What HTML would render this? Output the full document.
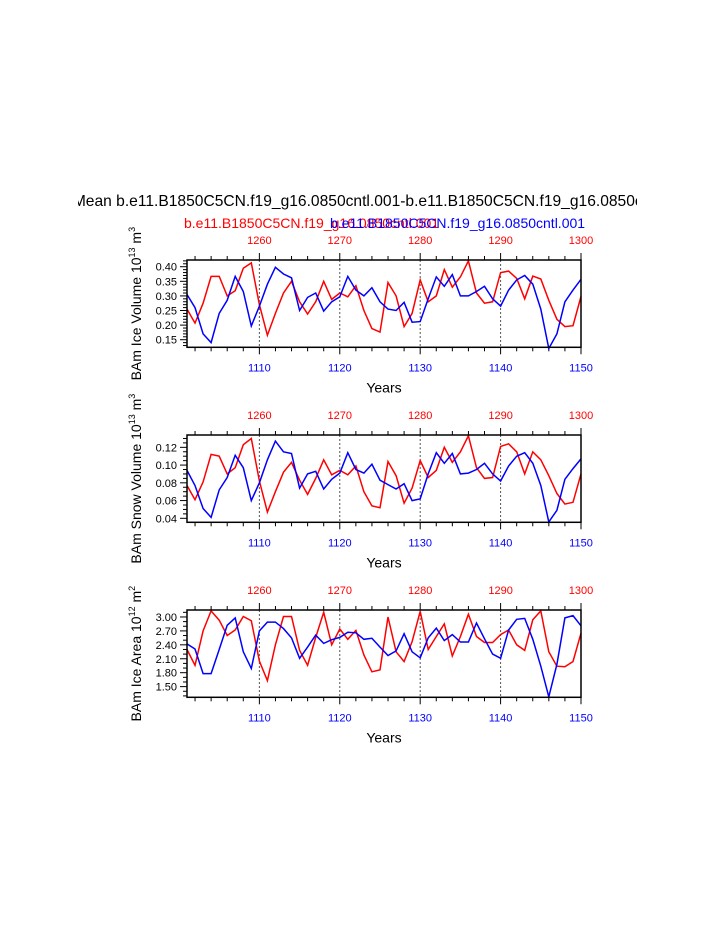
<!DOCTYPE html>
<html><head><meta charset="utf-8"><style>
html,body{margin:0;padding:0;background:#fff;}
svg{display:block;font-family:"Liberation Sans",Arial,sans-serif;}
</style></head><body>
<svg id="chart" width="723" height="935" viewBox="0 0 723 935">
<text x="366" y="206" font-size="15.6" text-anchor="middle">Mean b.e11.B1850C5CN.f19_g16.0850cntl.001-b.e11.B1850C5CN.f19_g16.0850cntl</text>
<rect x="0" y="190" width="78" height="24" fill="#fff"/>
<rect x="637" y="190" width="86" height="24" fill="#fff"/>
<text x="184" y="228" font-size="14" fill="#ff0000">b.e11.B1850C5CN.f19_g16.0850cntl.001</text>
<text x="330" y="228" font-size="14" fill="#0000ff">b.e11.B1850C5CN.f19_g16.0850cntl.001</text>
<g id="panels"></g>
</svg>
<script>
const years = [];
for (let y = 1101; y <= 1150; y++) years.push(y);
const iceVolRed = [0.255,0.207,0.275,0.367,0.367,0.30,0.318,0.395,0.413,0.27,0.165,0.24,0.31,0.35,0.28,0.238,0.28,0.35,0.288,0.31,0.297,0.335,0.25,0.188,0.176,0.346,0.30,0.195,0.24,0.355,0.28,0.30,0.39,0.33,0.365,0.42,0.31,0.275,0.28,0.38,0.385,0.36,0.29,0.368,0.358,0.285,0.22,0.195,0.198,0.298];
const iceVolBlue = [0.305,0.26,0.17,0.14,0.24,0.285,0.367,0.315,0.197,0.265,0.34,0.398,0.375,0.362,0.25,0.295,0.31,0.248,0.28,0.297,0.367,0.32,0.30,0.328,0.28,0.255,0.25,0.278,0.21,0.212,0.29,0.365,0.333,0.373,0.30,0.30,0.315,0.333,0.29,0.265,0.32,0.355,0.37,0.34,0.255,0.12,0.17,0.28,0.32,0.357];
const snowRed = [0.077,0.061,0.081,0.112,0.110,0.090,0.097,0.123,0.130,0.082,0.047,0.070,0.092,0.103,0.083,0.067,0.085,0.106,0.089,0.094,0.089,0.099,0.070,0.054,0.052,0.104,0.088,0.057,0.074,0.105,0.086,0.094,0.120,0.103,0.115,0.133,0.097,0.085,0.086,0.121,0.124,0.115,0.090,0.115,0.106,0.088,0.068,0.056,0.058,0.090];
const snowBlue = [0.094,0.077,0.051,0.041,0.072,0.086,0.111,0.097,0.060,0.080,0.106,0.127,0.115,0.113,0.074,0.090,0.093,0.073,0.084,0.091,0.114,0.095,0.091,0.101,0.083,0.078,0.073,0.079,0.060,0.062,0.090,0.114,0.102,0.113,0.090,0.091,0.095,0.102,0.090,0.082,0.099,0.110,0.114,0.102,0.077,0.036,0.049,0.084,0.096,0.107];
const areaRed = [2.30,1.96,2.70,3.13,2.93,2.60,2.72,3.01,2.92,2.05,1.63,2.40,3.01,3.01,2.28,1.96,2.56,3.10,2.40,2.74,2.52,2.71,2.18,1.82,1.86,3.00,2.25,2.04,2.47,3.12,2.30,2.58,2.85,2.16,2.58,3.06,2.58,2.45,2.45,2.62,2.72,2.40,2.28,2.94,3.13,2.25,1.94,1.93,2.04,2.65];
const areaBlue = [2.42,2.31,1.78,1.78,2.30,2.82,2.98,2.25,1.89,2.70,2.89,2.89,2.75,2.55,2.11,2.35,2.61,2.43,2.51,2.56,2.67,2.66,2.52,2.54,2.35,2.17,2.27,2.64,2.25,2.12,2.55,2.76,2.49,2.62,2.46,2.46,2.87,2.53,2.20,2.11,2.72,2.95,2.97,2.52,1.94,1.28,1.98,2.98,3.03,2.81];
const bottomTicks = [1110,1120,1130,1140,1150];
const topTicks = ["1260","1270","1280","1290","1300"];
const volTicks = [0.15,0.20,0.25,0.30,0.35,0.40];
const snowTicks = [0.04,0.06,0.08,0.10,0.12];
const areaTicks = [1.50,1.80,2.10,2.40,2.70,3.00];

const NS = "http://www.w3.org/2000/svg";
const X0 = 187, X1 = 581, YMIN = 1101, YMAXR = 1150;
function xs(yr){ return X0 + (yr - YMIN) * (X1 - X0) / (YMAXR - YMIN); }
function mk(tag, attrs, parent){ const e = document.createElementNS(NS, tag); for (const k in attrs) e.setAttribute(k, attrs[k]); parent.appendChild(e); return e; }

const panels = [
 {name:"ice-volume", top:260, bot:347.3, vmin:0.124, vmax:0.423, ticks:volTicks, dec:2, minor:0.01, red:iceVolRed, blue:iceVolBlue, t1:"BAm Ice Volume 10", sup:"13", unit:" m", usup:"3"},
 {name:"snow-volume", top:435, bot:522.3, vmin:0.0355, vmax:0.1339, ticks:snowTicks, dec:2, minor:0.005, red:snowRed, blue:snowBlue, t1:"BAm Snow Volume 10", sup:"13", unit:" m", usup:"3"},
 {name:"ice-area", top:610, bot:697.3, vmin:1.27, vmax:3.15, ticks:areaTicks, dec:2, minor:0.1, red:areaRed, blue:areaBlue, t1:"BAm Ice Area 10", sup:"12", unit:" m", usup:"2"}
];
const root = document.getElementById("panels");
panels.forEach(p => {
  const g = mk("g", {}, root);
  
  
  const ys = v => p.bot - (v - p.vmin) * (p.bot - p.top) / (p.vmax - p.vmin);
  for (let i = 0; i < 4; i++) {
    const x = xs(bottomTicks[i]);
    const l = mk("line", {x1:x, x2:x, y1:p.top, y2:p.bot, stroke:"#555", "stroke-width":1, "stroke-dasharray":"2,2"}, g);
    
    
  }
  for (let yr = 1102; yr <= 1150; yr += 2) {
    const x = xs(yr), major = (yr % 10 === 0), len = major ? 7 : 4;
    mk("line", {x1:x, x2:x, y1:p.bot, y2:p.bot + len, stroke:"#000", "stroke-width":1}, g);
    mk("line", {x1:x, x2:x, y1:p.top, y2:p.top - len, stroke:"#000", "stroke-width":1}, g);
  }
  bottomTicks.forEach((t, i) => {
    const tb = mk("text", {x:xs(t), y:p.bot + 24, "font-size":11, fill:"#0000ff", "text-anchor":"middle"}, g);
    
    
    tb.textContent = t;
    const tt = mk("text", {x:xs(t), y:p.top - 16, "font-size":11, fill:"#ff0000", "text-anchor":"middle"}, g);
    
    
    tt.textContent = topTicks[i];
  });
  const m0 = Math.ceil(p.vmin / p.minor - 1e-6);
  for (let k = m0; k * p.minor <= p.vmax + 1e-9; k++) {
    const v = k * p.minor, y = ys(v);
    const isMajor = p.ticks.some(t => Math.abs(t - v) < 1e-6);
    mk("line", {x1:X0 - (isMajor ? 7 : 4), x2:X0, y1:y, y2:y, stroke:"#000", "stroke-width":1}, g);
  }
  p.ticks.forEach(t => {
    const tl = mk("text", {x:X0 - 10, y:ys(t) + 4, "font-size":11, "text-anchor":"end"}, g);
    
    
    tl.textContent = t.toFixed(p.dec);
  });
  [["red", p.red, "#ff0000"], ["blue", p.blue, "#0000ff"]].forEach(([nm, arr, col]) => {
    const pts = arr.map((v, i) => xs(years[i]).toFixed(1) + "," + ys(v).toFixed(1)).join(" ");
    const pl = mk("polyline", {points:pts, fill:"none", stroke:col, "stroke-width":1.5}, g);
    
    
  });
  const fr = mk("rect", {x:X0, y:p.top, width:X1 - X0, height:p.bot - p.top, fill:"none", stroke:"#000", "stroke-width":1.5}, g);
  
  
  const xt = mk("text", {x:384, y:p.bot + 45, "font-size":14, "text-anchor":"middle"}, g);
  
  
  xt.textContent = "Years";
  const cy = (p.top + p.bot) / 2;
  const yt = mk("text", {x:0, y:0, "font-size":14, "text-anchor":"middle", transform:`translate(141,${cy}) rotate(-90)`}, g);
  
  
  yt.appendChild(document.createTextNode(p.t1));
  const s1 = mk("tspan", {"font-size":9, dy:-6}, yt); s1.textContent = p.sup;
  const s2 = mk("tspan", {dy:6}, yt); s2.textContent = p.unit;
  const s3 = mk("tspan", {"font-size":9, dy:-6}, yt); s3.textContent = p.usup;
});
</script>
</body></html>
